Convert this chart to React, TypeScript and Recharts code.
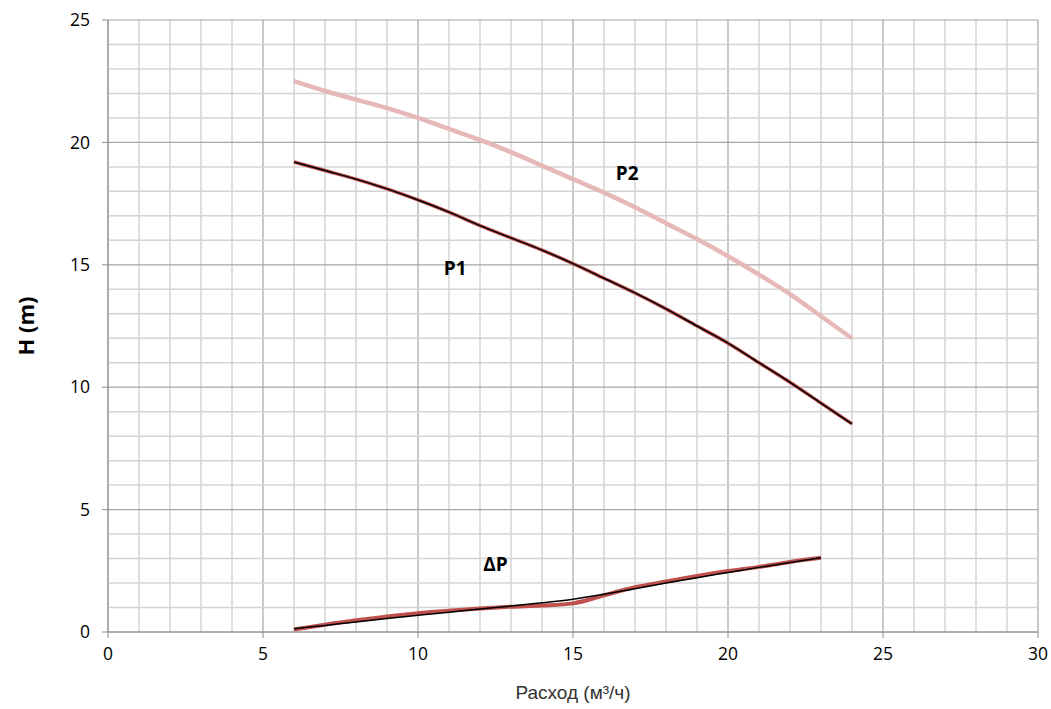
import React from "react";
import {
  LineChart, Line, XAxis, YAxis, ReferenceLine, ReferenceDot,
} from "recharts";

// flow, m3/h
const flowP = [6, 7, 8, 9, 10, 11, 12, 13, 14, 15, 16, 17, 18, 19, 20, 21, 22, 23, 24];
const p2 = [22.5, 22.1, 21.75, 21.4, 21.0, 20.55, 20.1, 19.6, 19.05, 18.5, 17.95, 17.35, 16.7, 16.05, 15.35, 14.6, 13.8, 12.9, 12.0];
const p1 = [19.2, 18.85, 18.5, 18.1, 17.65, 17.15, 16.6, 16.1, 15.6, 15.05, 14.45, 13.85, 13.2, 12.5, 11.8, 11.0, 10.2, 9.35, 8.5];

const flowDp = [6, 7, 8, 9, 10, 11, 12, 13, 14, 15, 16, 17, 18, 19, 20, 21, 22, 23];
const dpBlack = [0.13, 0.27, 0.41, 0.55, 0.68, 0.81, 0.94, 1.06, 1.19, 1.34, 1.54, 1.77, 2.0, 2.22, 2.43, 2.64, 2.84, 3.03];
const dpRed = [0.1, 0.3, 0.48, 0.63, 0.77, 0.87, 0.96, 1.03, 1.08, 1.17, 1.5, 1.83, 2.06, 2.29, 2.49, 2.66, 2.86, 3.03];

const xTicks = [0, 5, 10, 15, 20, 25, 30];
const yTicks = [0, 5, 10, 15, 20, 25];
const xMinor = Array.from({ length: 31 }, (_, i) => i);
const yMinor = Array.from({ length: 26 }, (_, i) => i);

const curveLabels = [
  { text: "P2", x: 16.75, y: 18.75 },
  { text: "P1", x: 11.2, y: 14.87 },
  { text: "ΔP", x: 12.5, y: 2.78 },
];

const toRows = (xs: number[], ys: number[]) => xs.map((x, i) => ({ x, y: ys[i] }));

const YTitle = (props: any) => {
  const vb = props.viewBox || { x: 48, y: 20, width: 60, height: 612 };
  const cy = vb.y + vb.height / 2;
  return (
    <text x={25} y={cy} transform={`rotate(-90, 25, ${cy})`}
      textAnchor="middle" dominantBaseline="central"
      style={{ fontFamily: "Open Sans", fontWeight: 700, fontSize: 22, fill: "#000" }}>
      H (m)
    </text>
  );
};

const XTitle = (props: any) => {
  const vb = props.viewBox || { x: 108, y: 632, width: 930, height: 30 };
  return (
    <text x={vb.x + vb.width / 2} y={692} textAnchor="middle" dominantBaseline="central"
      style={{ fontFamily: "Liberation Sans", fontSize: 19, fill: "#333" }}>
      Расход (м³/ч)
    </text>
  );
};

const tickStyle = { fontFamily: "Open Sans", fontSize: 17.5, fill: "#000" };

export default function App() {
  return (
    <div style={{ position: "absolute", left: 0, top: 0, width: 1051, height: 709, background: "#fff" }}>
      <LineChart width={1051} height={709} margin={{ top: 20, right: 13, bottom: 47, left: 48 }}>
        <XAxis type="number" dataKey="x" domain={[0, 30]} ticks={xTicks} allowDataOverflow
          height={30} tickSize={6} tickMargin={10} stroke="#8c8c8c" tick={tickStyle}
          label={<XTitle />} />
        <YAxis type="number" dataKey="y" domain={[0, 25]} ticks={yTicks} allowDataOverflow
          width={60} tickSize={6} tickMargin={12} stroke="#8c8c8c" tick={tickStyle}
          label={<YTitle />} />
        {xMinor.map((v) => (
          <ReferenceLine key={"xm" + v} x={v} stroke={v % 5 === 0 ? "#a6a6a6" : "#d4d4d4"} strokeWidth={v % 5 === 0 ? 1.2 : 1.5} />
        ))}
        {yMinor.map((v) => (
          <ReferenceLine key={"ym" + v} y={v} stroke={v % 5 === 0 ? "#a6a6a6" : "#d4d4d4"} strokeWidth={v % 5 === 0 ? 1.2 : 1.5} />
        ))}
        <Line data={toRows(flowP, p2)} dataKey="y" type="monotone" stroke="#e6b9b8" strokeWidth={4.5} dot={false} isAnimationActive={false} />
        <Line data={toRows(flowP, p1)} dataKey="y" type="monotone" stroke="#c0504d" strokeWidth={3.5} dot={false} isAnimationActive={false} />
        <Line data={toRows(flowP, p1)} dataKey="y" type="monotone" stroke="#000" strokeWidth={1.5} dot={false} isAnimationActive={false} />
        <Line data={toRows(flowDp, dpRed)} dataKey="y" type="monotone" stroke="#c0504d" strokeWidth={4} dot={false} isAnimationActive={false} />
        <Line data={toRows(flowDp, dpBlack)} dataKey="y" type="monotone" stroke="#000" strokeWidth={1.5} dot={false} isAnimationActive={false} />
        {curveLabels.map((l) => (
          <ReferenceDot key={l.text} x={l.x} y={l.y} r={0} fill="none" stroke="none"
            label={{ value: l.text, position: "center", style: { fontFamily: "Open Sans", fontWeight: 700, fontSize: 19, fill: "#000" } }} />
        ))}
      </LineChart>
    </div>
  );
}
